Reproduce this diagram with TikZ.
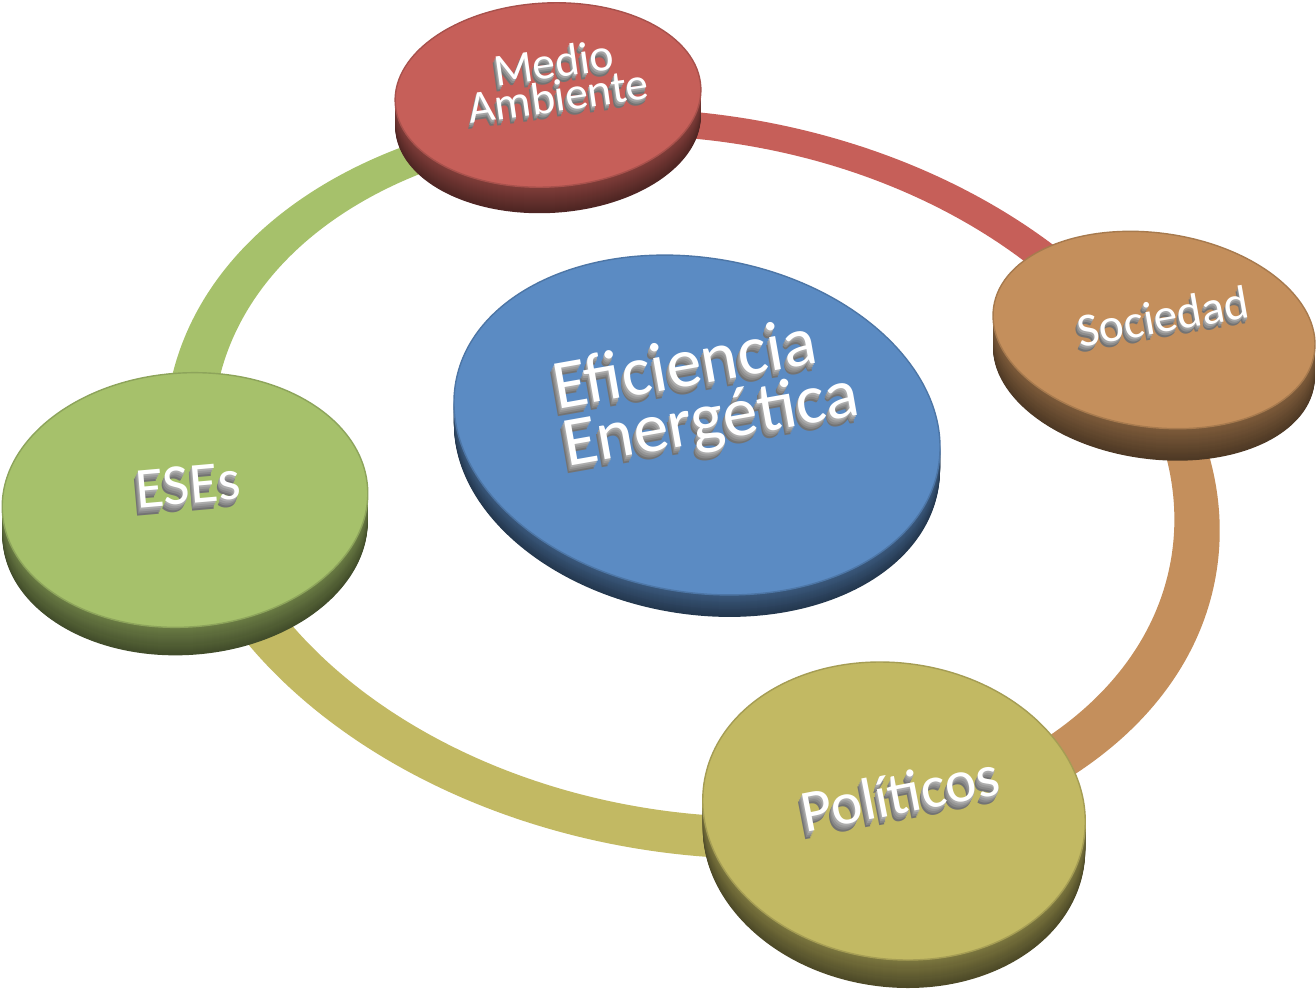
\documentclass[tikz,border=0pt]{standalone}
\usepackage{fontspec}
\setmainfont{Carlito}
\usetikzlibrary{calc}

\definecolor{azul}{HTML}{5B8BC3}
\definecolor{rojo}{HTML}{C65F59}
\definecolor{naranja}{HTML}{C48F5C}
\definecolor{oliva}{HTML}{C2B963}
\definecolor{verde}{HTML}{A6C16B}

\tikzset{
  rotulo/.style={inner sep=0pt, align=center},
}

% disco con canto: centro, radio x, radio y, giro, grosor, color
\newcommand{\plato}[6]{%
  \foreach \k in {#5,...,1}{
    \pgfmathtruncatemacro{\tono}{40+25*(#5-\k)/#5}
    \fill[fill=#6!\tono!black, shift={(#1)}, shift={(0,\k)}, rotate=#4]
      (0,0) ellipse [x radius=#2, y radius=#3];
  }
  \fill[fill=#6, draw=#6!85!black, line width=0.8pt, shift={(#1)}, rotate=#4]
    (0,0) ellipse [x radius=#2, y radius=#3];
}

% texto en relieve: nombre, posicion, opciones, capas, texto
\newcommand{\letrero}[5]{%
  \foreach \k in {#4,...,1}{
    \pgfmathtruncatemacro{\gris}{25+30*\k/#4}
    \node[rotulo, #3, text=black!\gris] at ($(#2)+(-0.8*\k,2*\k)$) {#5};
  }
  \node[rotulo, #3, text=white] (#1) at (#2) {#5};
}

\newcommand{\aro}{(0,3.75) ellipse [x radius=531.5, y radius=369]
  (0,-3.75) ellipse [x radius=484.5, y radius=335]}

\begin{document}
\begin{tikzpicture}[x=0.02cm, y=-0.02cm]

  \useasboundingbox (0,0) rectangle (1316,995);
  \fill[white] (0,0) rectangle (1316,995);

  \coordinate (centro) at (693,480);
  \coordinate (medio) at (548,95);
  \coordinate (sociedad) at (1154,330);
  \coordinate (politicos) at (894,811);
  \coordinate (eses) at (185,500);
  \coordinate (eficiencia) at (697,425);

  % anillo
  \begin{scope}
    \clip (centro) -- ($(centro)!4!(medio)$) -- ($(centro)!4!(sociedad)$) -- cycle;
    \fill[rojo, even odd rule, shift={(centro)}, rotate=-10] \aro;
  \end{scope}
  \begin{scope}
    \clip (centro) -- ($(centro)!4!(sociedad)$) -- ($(centro)!4!(politicos)$) -- cycle;
    \fill[naranja, even odd rule, shift={(centro)}, rotate=-10] \aro;
  \end{scope}
  \begin{scope}
    \clip (centro) -- ($(centro)!4!(politicos)$) -- ($(centro)!4!(eses)$) -- cycle;
    \fill[oliva, even odd rule, shift={(centro)}, rotate=-10] \aro;
  \end{scope}
  \begin{scope}
    \clip (centro) -- ($(centro)!4!(eses)$) -- ($(centro)!4!(medio)$) -- cycle;
    \fill[verde, even odd rule, shift={(centro)}, rotate=-10] \aro;
  \end{scope}

  % discos
  \plato{eficiencia}{245}{167}{-10}{22}{azul}
  \plato{medio}{153}{92}{3}{26}{rojo}
  \plato{sociedad}{162}{97}{-8}{32}{naranja}
  \plato{eses}{183}{127}{4}{28}{verde}
  \plato{politicos}{192}{148}{-8}{28}{oliva}

  % textos
  \letrero{t-eficiencia}{706,394}{rotate=10, align=left, font=\fontsize{40}{33}\selectfont}{4}{Eficiencia\\Energética}
  \letrero{t-medio}{556,79}{rotate=8, font=\fontsize{26}{18}\selectfont}{3}{Medio\\Ambiente}
  \letrero{t-sociedad}{1163,316}{rotate=10, font=\fontsize{27}{27}\selectfont}{3}{Sociedad}
  \letrero{t-politicos}{900,793}{rotate=11, font=\fontsize{34}{34}\selectfont}{4}{Políticos}
  \letrero{t-eses}{188,485}{rotate=5, font=\fontsize{33}{33}\selectfont}{4}{ESEs}

\end{tikzpicture}
\end{document}
